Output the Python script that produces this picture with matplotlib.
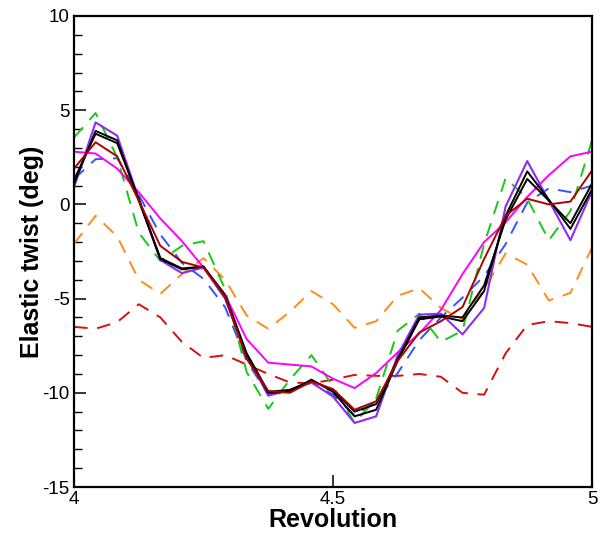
import numpy as np
import matplotlib
matplotlib.use("Agg")
from matplotlib import pyplot as plt
from matplotlib.ticker import MultipleLocator

plt.rcParams["font.family"] = ["Liberation Sans", "DejaVu Sans"]
plt.rcParams["axes.unicode_minus"] = False

# sample grid: 24 azimuth steps per revolution
rev = np.linspace(4.0, 5.0, 25)

# elastic twist (deg)
black_a = [1.1, 3.9, 3.4, 0.2, -2.85, -3.4, -3.3, -4.9, -8.0, -10.0, -9.95, -9.3, -9.95,
           -11.25, -10.9, -8.3, -6.1, -5.95, -6.2, -4.6, -0.6, 1.75, 0.25, -1.3, 0.8]
black_b = [1.3, 3.75, 3.25, 0.3, -2.9, -3.45, -3.3, -4.8, -7.9, -9.95, -9.85, -9.35, -9.85,
           -11.0, -10.6, -8.2, -6.0, -5.9, -6.0, -4.3, -0.8, 1.35, 0.2, -1.0, 1.1]
purple = [0.9, 4.35, 3.65, 0.3, -2.95, -3.65, -3.35, -5.0, -8.0, -10.15, -9.85, -9.45, -10.2,
          -11.6, -11.25, -8.0, -5.85, -5.8, -6.9, -5.5, -0.1, 2.3, 0.2, -1.9, 0.7]
dark_red = [1.9, 3.3, 2.55, 0.2, -2.2, -3.05, -3.35, -4.9, -8.2, -9.9, -10.0, -9.4, -9.8,
            -10.9, -10.45, -8.3, -6.8, -6.2, -5.45, -2.9, -0.6, 0.3, 0.0, 0.15, 1.8]
magenta = [2.8, 2.7, 1.9, 0.65, -0.75, -1.95, -3.35, -4.8, -7.15, -8.4, -8.5, -8.6, -9.25,
           -9.75, -8.95, -7.85, -6.85, -5.6, -3.7, -2.0, -0.95, 0.4, 1.55, 2.55, 2.8]
green = [3.55, 4.85, 2.5, -1.5, -3.0, -2.2, -1.95, -4.5, -8.9, -10.85, -9.3, -8.0, -9.65,
         -11.6, -10.3, -6.7, -5.8, -7.3, -6.7, -2.1, 1.4, 0.3, -1.9, -0.35, 3.4]
blue = [1.35, 2.4, 2.45, 0.5, -1.6, -3.1, -3.95, -5.45, -8.3, -10.1, -9.85, -9.45, -10.1,
        -11.2, -10.45, -8.95, -7.2, -6.0, -4.95, -3.8, -2.1, 0.1, 0.85, 0.65, 1.0]
orange = [-2.1, -0.6, -1.7, -4.0, -4.75, -3.7, -2.85, -4.0, -5.9, -6.6, -5.7, -4.6, -5.3,
          -6.55, -6.2, -4.85, -4.45, -5.5, -6.1, -4.5, -2.6, -3.2, -5.1, -4.7, -2.3]
red = [-6.5, -6.6, -6.25, -5.3, -6.0, -7.3, -8.15, -8.0, -8.5, -9.0, -9.45, -9.5, -9.3,
       -9.05, -9.1, -9.1, -9.0, -9.15, -10.0, -10.1, -7.9, -6.4, -6.2, -6.3, -6.5]

fig = plt.figure(figsize=(6.08, 5.35), dpi=100)
ax = fig.add_axes([74 / 608, 1 - 487 / 535, (592 - 74) / 608, (487 - 16) / 535])

dash = (7, 5)
ax.plot(rev, red, color="#d41010", lw=1.4, dashes=dash)
ax.plot(rev, orange, color="#ff8c1a", lw=1.4, dashes=dash)
ax.plot(rev, blue, color="#3355ff", lw=1.4, dashes=dash)
ax.plot(rev, green, color="#18c818", lw=1.4, dashes=dash)
ax.plot(rev, magenta, color="#ff00ff", lw=1.4)
ax.plot(rev, purple, color="#8c2cf5", lw=1.5)
ax.plot(rev, black_a, color="black", lw=1.4)
ax.plot(rev, black_b, color="black", lw=1.4)
ax.plot(rev, dark_red, color="#b00000", lw=1.4)

ax.set_xlim(4, 5)
ax.set_ylim(-15, 10)
ax.set_xticks([4, 4.5, 5])
ax.set_xticklabels(["4", "4.5", "5"])
ax.set_yticks([-15, -10, -5, 0, 5, 10])
ax.yaxis.set_minor_locator(MultipleLocator(1))

for s in ax.spines.values():
    s.set_linewidth(1.6)
ax.tick_params(axis="both", which="major", direction="in", length=8.5, width=1.1,
               labelsize=13.5, top=False, right=False, pad=3)
ax.tick_params(axis="y", which="minor", direction="in", length=5.5, width=1.0)

ax.set_xlabel("Revolution", fontsize=18, fontweight="bold", labelpad=0)
ax.set_ylabel("Elastic twist (deg)", fontsize=18, fontweight="bold", labelpad=-1)

fig.savefig("out.png", dpi=100)
